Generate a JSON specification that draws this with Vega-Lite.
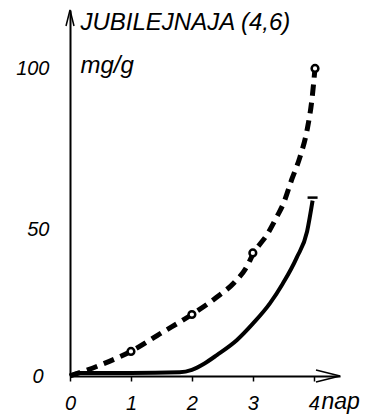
{
  "$schema": "https://vega.github.io/schema/vega-lite/v6.json",
  "width": 270,
  "height": 366,
  "autosize": {"type": "none"},
  "padding": {"left": 70, "top": 10, "right": 31, "bottom": 38},
  "background": "white",
  "config": {
    "view": {"stroke": null},
    "font": "Liberation Sans"
  },
  "datasets": {
    "curves": [
      {"day": 0, "mg": 0, "series": "dashed"},
      {"day": 0.5, "mg": 3.6, "series": "dashed"},
      {"day": 1, "mg": 8, "series": "dashed"},
      {"day": 1.5, "mg": 14, "series": "dashed"},
      {"day": 2, "mg": 20, "series": "dashed"},
      {"day": 2.4, "mg": 25.5, "series": "dashed"},
      {"day": 2.7, "mg": 30.5, "series": "dashed"},
      {"day": 2.9, "mg": 35.5, "series": "dashed"},
      {"day": 3, "mg": 39.5, "series": "dashed"},
      {"day": 3.25, "mg": 46.5, "series": "dashed"},
      {"day": 3.4, "mg": 52, "series": "dashed"},
      {"day": 3.5, "mg": 56, "series": "dashed"},
      {"day": 3.64, "mg": 64, "series": "dashed"},
      {"day": 3.77, "mg": 71, "series": "dashed"},
      {"day": 3.89, "mg": 80, "series": "dashed"},
      {"day": 3.97, "mg": 90, "series": "dashed"},
      {"day": 4.02, "mg": 100, "series": "dashed"},
      {"day": 0, "mg": 0, "series": "solid"},
      {"day": 0.15, "mg": 1, "series": "solid"},
      {"day": 1, "mg": 1, "series": "solid"},
      {"day": 1.8, "mg": 1.2, "series": "solid"},
      {"day": 2, "mg": 2, "series": "solid"},
      {"day": 2.2, "mg": 4, "series": "solid"},
      {"day": 2.41, "mg": 6.8, "series": "solid"},
      {"day": 2.74, "mg": 11.7, "series": "solid"},
      {"day": 3, "mg": 17, "series": "solid"},
      {"day": 3.28, "mg": 23.6, "series": "solid"},
      {"day": 3.49, "mg": 30, "series": "solid"},
      {"day": 3.72, "mg": 38.5, "series": "solid"},
      {"day": 3.89, "mg": 47, "series": "solid"},
      {"day": 3.98, "mg": 57, "series": "solid"}
    ],
    "markers": [
      {"day": 1, "mg": 8, "series": "dashed"},
      {"day": 2, "mg": 20, "series": "dashed"},
      {"day": 3, "mg": 40, "series": "dashed"},
      {"day": 4.02, "mg": 100, "series": "dashed"},
      {"day": 3.98, "mg": 58, "series": "solid"}
    ]
  },
  "layer": [
    {
      "data": {"name": "curves"},
      "transform": [{"filter": "datum.series === 'dashed'"}],
      "mark": {"type": "line", "interpolate": "monotone", "color": "black", "strokeWidth": 5, "strokeDash": [11, 7], "strokeCap": "butt"},
      "encoding": {
        "x": {
          "field": "day", "type": "quantitative",
          "scale": {"domain": [0, 4.43], "nice": false, "zero": false},
          "axis": {
            "values": [0, 1, 2, 3, 4],
            "format": "d",
            "grid": false,
            "domainColor": "black", "domainWidth": 2,
            "tickColor": "black", "tickWidth": 1.5, "tickSize": 5,
            "labelFontSize": 20, "labelFontStyle": "italic", "labelColor": "black",
            "labelBaseline": "alphabetic", "labelPadding": 28,
            "labelFlush": false, "labelOverlap": false,
            "title": "nap",
            "titleFontSize": 23, "titleFontStyle": "italic", "titleFontWeight": "normal", "titleColor": "black",
            "titleAlign": "left", "titleBaseline": "alphabetic",
            "titleX": 251, "titleY": 32
          }
        },
        "y": {
          "field": "mg", "type": "quantitative",
          "scale": {"domain": [0, 119], "nice": false},
          "axis": {
            "values": [0, 50, 100],
            "grid": false, "ticks": false,
            "domainColor": "black", "domainWidth": 2,
            "labelFontSize": 20, "labelFontStyle": "italic", "labelColor": "black",
            "labelAlign": "right",
            "labelBaseline": "middle",
            "labelPadding": {"condition": {"test": "datum.value === 0", "value": 27}, "value": 21},
            "labelOffset": {"condition": {"test": "datum.value === 50", "value": 7}, "value": 0},
            "labelFlush": false, "labelOverlap": false,
            "title": ["JUBILEJNAJA (4,6)", "mg/g"],
            "titleFontSize": 24, "titleFontStyle": "italic", "titleFontWeight": "normal", "titleColor": "black",
            "titleAngle": 0, "titleAlign": "left", "titleBaseline": "top",
            "titleX": 10, "titleY": 0, "titleLineHeight": 43
          }
        }
      }
    },
    {
      "data": {"name": "curves"},
      "transform": [{"filter": "datum.series === 'solid'"}],
      "mark": {"type": "line", "interpolate": "monotone", "color": "black", "strokeWidth": 4},
      "encoding": {
        "x": {"field": "day", "type": "quantitative"},
        "y": {"field": "mg", "type": "quantitative"}
      }
    },
    {
      "data": {"name": "markers"},
      "transform": [{"filter": "datum.series === 'dashed'"}],
      "mark": {"type": "point", "shape": "circle", "filled": true, "fill": "white", "stroke": "black", "strokeWidth": 2.5, "size": 45, "opacity": 1},
      "encoding": {
        "x": {"field": "day", "type": "quantitative"},
        "y": {"field": "mg", "type": "quantitative"}
      }
    },
    {
      "data": {"name": "markers"},
      "transform": [{"filter": "datum.series === 'solid'"}],
      "mark": {"type": "point", "shape": "M-1,0L1,0", "filled": false, "stroke": "black", "strokeWidth": 2.5, "size": 100, "opacity": 1},
      "encoding": {
        "x": {"field": "day", "type": "quantitative"},
        "y": {"field": "mg", "type": "quantitative"}
      }
    },
    {
      "data": {"values": [{}]},
      "mark": {"type": "point", "shape": "M-1,4L0,0L1,4", "filled": false, "stroke": "black", "strokeWidth": 1.5, "size": 64, "opacity": 1},
      "encoding": {
        "x": {"datum": 0, "type": "quantitative"},
        "y": {"datum": 119, "type": "quantitative"}
      }
    },
    {
      "data": {"values": [{}]},
      "mark": {"type": "point", "shape": "M-6,-1.5L0,0L-6,1.5", "filled": false, "stroke": "black", "strokeWidth": 1.5, "size": 64, "opacity": 1},
      "encoding": {
        "x": {"datum": 4.43, "type": "quantitative"},
        "y": {"datum": 0, "type": "quantitative"}
      }
    }
  ]
}
